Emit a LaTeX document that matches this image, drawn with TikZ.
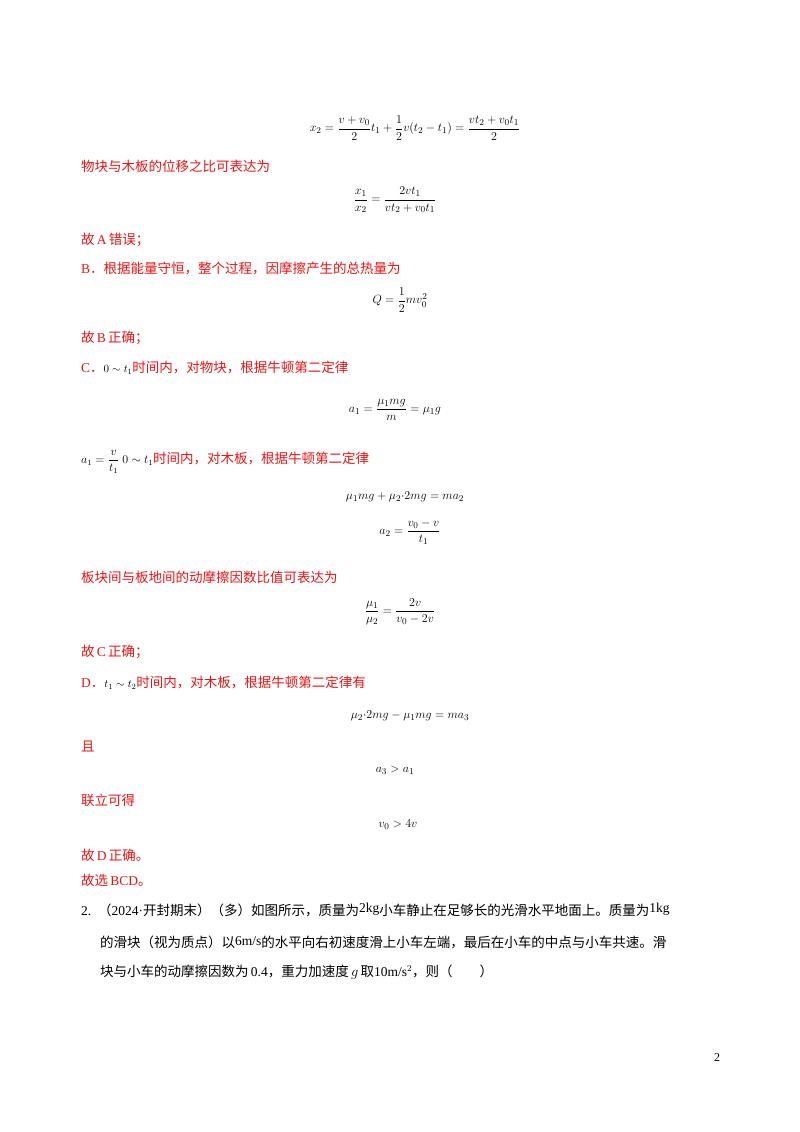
\documentclass[tikz,border=0pt]{standalone}
\usepackage{fontspec}
\usepackage{amsmath}
\setmainfont{Liberation Serif}
\newfontfamily\cjk{Noto Sans CJK SC}
\definecolor{ans}{RGB}{235,20,20}
\begin{document}
\begin{tikzpicture}[x=1pt,y=-1pt,
  txt/.style={anchor=west,inner sep=0pt,font=\fontsize{13.5}{16}\selectfont},
  red/.style={txt,text=ans},
  eq/.style={anchor=center,inner sep=0pt,font=\fontsize{13}{15}\selectfont}]
\useasboundingbox[fill=white] (0,0) rectangle (800,1132);
\node[eq] (e1) at (415,128) {$x_2=\dfrac{v+v_0}{2}t_1+\dfrac12v(t_2-t_1)=\dfrac{vt_2+v_0t_1}{2}$};
\node[red] (l1) at (81,166) {\cjk 物块与木板的位移之比可表达为};
\node[eq] (e2) at (395,200) {$\dfrac{x_1}{x_2}=\dfrac{2vt_1}{vt_2+v_0t_1}$};
\node[red] (l2) at (81,240) {\cjk 故\,\rmfamily A\,\cjk 错误；};
\node[red] (l3) at (81,268) {B{\cjk ．根据能量守恒，整个过程，因摩擦产生的总热量为}};
\node[eq] (e3) at (400,300) {$Q=\dfrac12mv_0^{2}$};
\node[red] (l4) at (81,338) {\cjk 故\,\rmfamily B\,\cjk 正确；};
\node[red] (l5) at (81,368) {C{\cjk ．}\textcolor{black}{\fontsize{11}{12}\selectfont$0\sim t_1$}\cjk 时间内，对物块，根据牛顿第二定律};
\node[eq] (e4) at (395,410) {$a_1=\dfrac{\mu_1mg}{m}=\mu_1g$};
\node[red] (l6) at (81,462) {\textcolor{black}{\fontsize{12}{12}\selectfont$a_1=\dfrac{v}{t_1}\ 0\sim t_1$}\cjk 时间内，对木板，根据牛顿第二定律};
\node[eq] (e5) at (405,497) {$\mu_1mg+\mu_2{\cdot}2mg=ma_2$};
\node[eq] (e6) at (410,532) {$a_2=\dfrac{v_0-v}{t_1}$};
\node[red] (l7) at (81,577) {\cjk 板块间与板地间的动摩擦因数比值可表达为};
\node[eq] (e7) at (400,612) {$\dfrac{\mu_1}{\mu_2}=\dfrac{2v}{v_0-2v}$};
\node[red] (l8) at (81,652) {\cjk 故\,\rmfamily C\,\cjk 正确；};
\node[red] (l9) at (81,683) {D{\cjk ．}\textcolor{black}{\fontsize{11}{12}\selectfont$t_1\sim t_2$}\cjk 时间内，对木板，根据牛顿第二定律有};
\node[eq] (e8) at (410,716) {$\mu_2{\cdot}2mg-\mu_1mg=ma_3$};
\node[red] (l10) at (81,746) {\cjk 且};
\node[eq] (e9) at (395,770) {$a_3>a_1$};
\node[red] (l11) at (81,800) {\cjk 联立可得};
\node[eq] (e10) at (398,825) {$v_0>4v$};
\node[red] (l12) at (81,855) {\cjk 故\,\rmfamily D\,\cjk 正确。};
\node[red] (l13) at (81,880) {\cjk 故选\,\rmfamily BCD\cjk 。};
\node[txt] (q1) at (81,910) {2.\ \ \cjk （\rmfamily 2024·\cjk 开封期末）（多）如图所示，质量为\raisebox{3pt}{\rmfamily 2kg}小车静止在足够长的光滑水平地面上。质量为\raisebox{3pt}{\rmfamily 1kg}};
\node[txt] (q2) at (100,942) {\cjk 的滑块（视为质点）以\raisebox{2pt}{\rmfamily 6m/s}的水平向右初速度滑上小车左端，最后在小车的中点与小车共速。滑};
\node[txt] (q3) at (100,972) {\cjk 块与小车的动摩擦因数为\rmfamily\,0.4{\cjk ，重力加速度}\,$g$\,{\cjk 取}10m/s$^2${\cjk ，则（\qquad）}};
\node[txt,font=\fontsize{12}{14}\selectfont] (pn) at (714,1058) {2};
\end{tikzpicture}
\end{document}
